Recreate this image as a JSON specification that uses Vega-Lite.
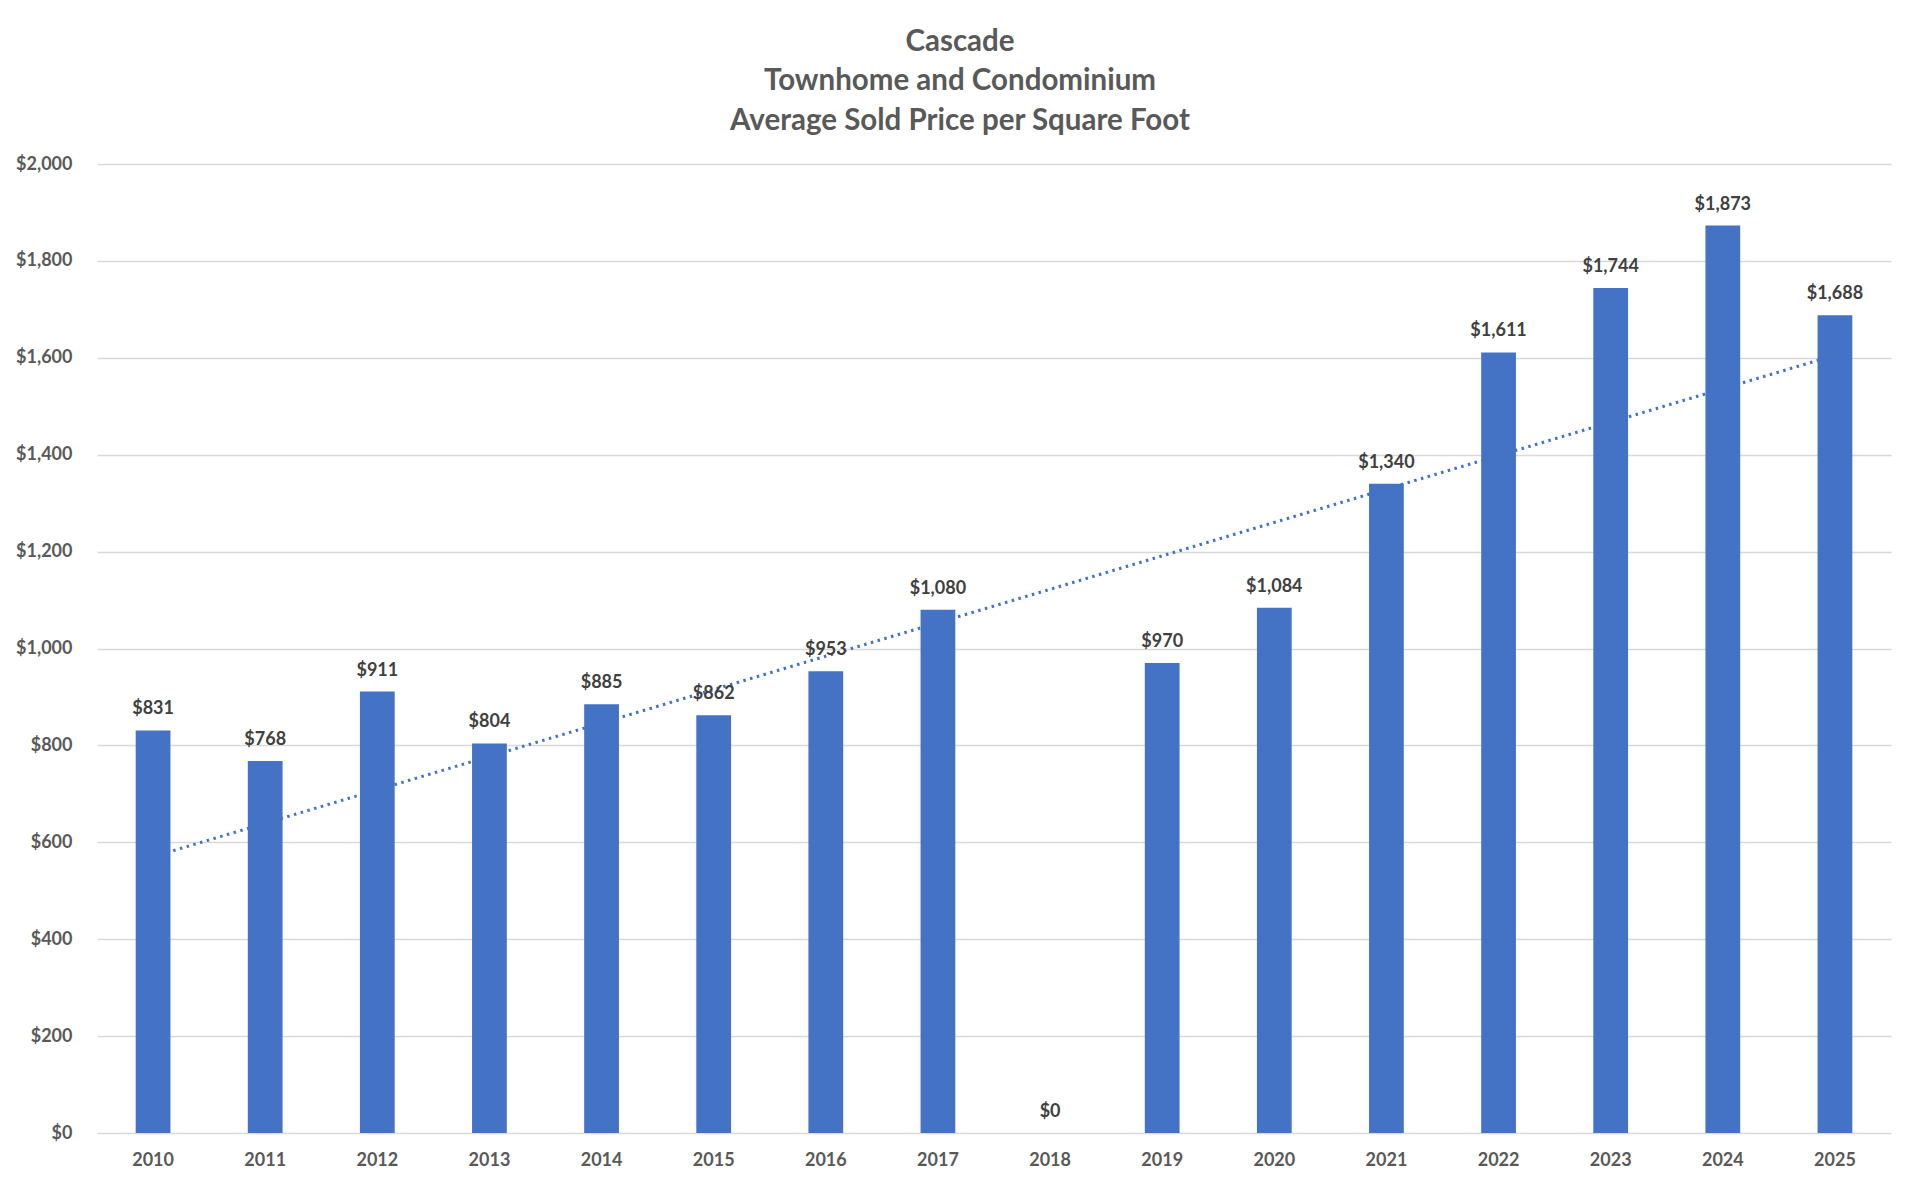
{
  "$schema": "https://vega.github.io/schema/vega-lite/v6.json",
  "autosize": "none",
  "width": 1794,
  "height": 969,
  "padding": {"left": 97, "top": 164, "right": 29, "bottom": 57},
  "background": "white",
  "title": {
    "text": ["Cascade", "Townhome and Condominium", "Average Sold Price per Square Foot"],
    "font": "Lato",
    "fontSize": 29.5,
    "fontWeight": "bold",
    "color": "#595959",
    "anchor": "middle",
    "dx": -34,
    "lineHeight": 39.5,
    "offset": 19
  },
  "data": {
    "values": [
      {"year": 2010, "value": 831},
      {"year": 2011, "value": 768},
      {"year": 2012, "value": 911},
      {"year": 2013, "value": 804},
      {"year": 2014, "value": 885},
      {"year": 2015, "value": 862},
      {"year": 2016, "value": 953},
      {"year": 2017, "value": 1080},
      {"year": 2018, "value": 0},
      {"year": 2019, "value": 970},
      {"year": 2020, "value": 1084},
      {"year": 2021, "value": 1340},
      {"year": 2022, "value": 1611},
      {"year": 2023, "value": 1744},
      {"year": 2024, "value": 1873},
      {"year": 2025, "value": 1688}
    ]
  },
  "config": {
    "view": {"stroke": null},
    "axis": {
      "labelFont": "Lato",
      "labelFontSize": 18,
      "labelFontWeight": "bold",
      "labelColor": "#595959",
      "ticks": false,
      "title": null
    }
  },
  "encoding": {
    "x": {
      "field": "year",
      "type": "ordinal",
      "scale": {"paddingInner": 0.69, "paddingOuter": 0.345},
      "axis": {"labelAngle": 0, "labelPadding": 18, "domain": false, "grid": false}
    }
  },
  "layer": [
    {
      "transform": [{"regression": "value", "on": "year"}],
      "mark": {"type": "line", "color": "#4472C4", "strokeWidth": 3, "strokeDash": [2.5, 4.5]},
      "encoding": {
        "y": {"field": "value", "type": "quantitative", "scale": {"domain": [0, 2000], "nice": false}}
      }
    },
    {
      "mark": {"type": "bar", "color": "#4472C4"},
      "encoding": {
        "y": {
          "field": "value",
          "type": "quantitative",
          "scale": {"domain": [0, 2000], "nice": false},
          "axis": {
            "values": [0, 200, 400, 600, 800, 1000, 1200, 1400, 1600, 1800, 2000],
            "format": "$,.0f",
            "labelPadding": 25,
            "domain": false,
            "grid": true,
            "gridColor": "#d9d9d9",
            "gridWidth": 1.5
          }
        }
      }
    },
    {
      "mark": {
        "type": "text",
        "font": "Lato",
        "fontSize": 18,
        "fontWeight": "bold",
        "color": "#404040",
        "baseline": "bottom",
        "dy": -12
      },
      "encoding": {
        "y": {"field": "value", "type": "quantitative"},
        "text": {"field": "value", "type": "quantitative", "format": "$,.0f"}
      }
    }
  ]
}
